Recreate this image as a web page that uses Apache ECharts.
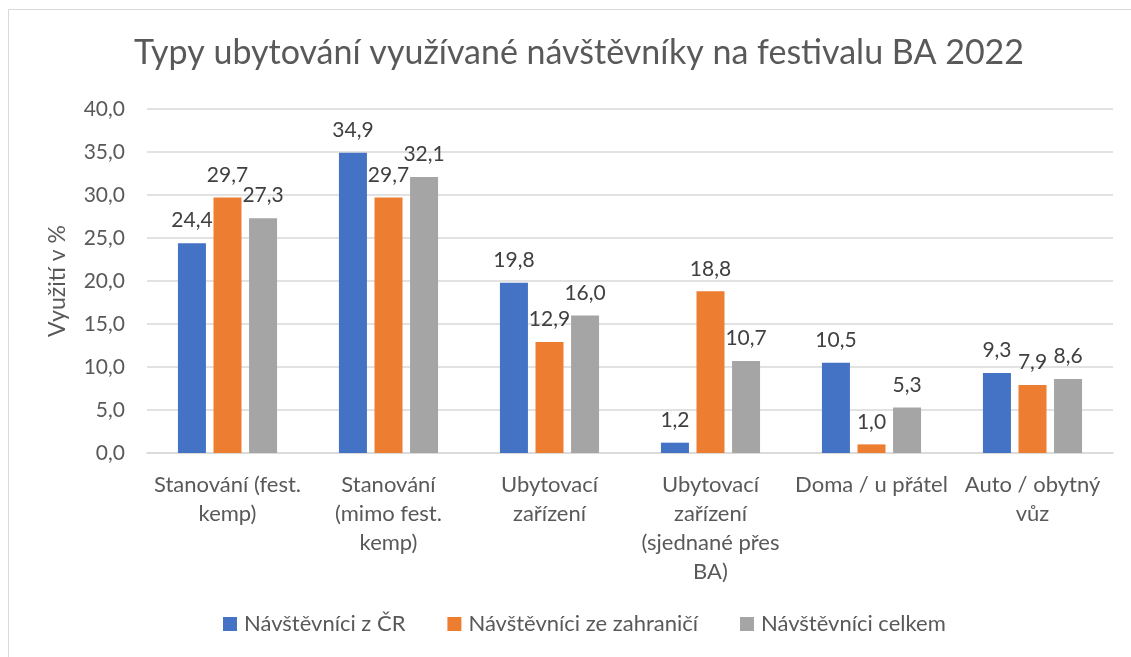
<!DOCTYPE html>
<html>
<head>
<meta charset="utf-8">
<script src="https://cdn.jsdelivr.net/npm/echarts@6/dist/echarts.min.js"></script>
<style>
  html, body { margin: 0; padding: 0; background: #fff; }
  #chart { width: 1131px; height: 657px; }
</style>
</head>
<body>
<div id="chart"></div>
<script>
// data
const categories = [
  'Stanování (fest.\nkemp)',
  'Stanování\n(mimo fest.\nkemp)',
  'Ubytovací\nzařízení',
  'Ubytovací\nzařízení\n(sjednané přes\nBA)',
  'Doma / u přátel',
  'Auto / obytný\nvůz'
];
const seriesNames = ['Návštěvníci z ČR', 'Návštěvníci ze zahraničí', 'Návštěvníci celkem'];
const czValues = [24.4, 34.9, 19.8, 1.2, 10.5, 9.3];
const abroadValues = [29.7, 29.7, 12.9, 18.8, 1.0, 7.9];
const totalValues = [27.3, 32.1, 16.0, 10.7, 5.3, 8.6];
const yTicks = [0, 5, 10, 15, 20, 25, 30, 35, 40];

const colors = ['#4472C4', '#ED7D31', '#A5A5A5'];
const font = 'Lato';

// desetinná čárka
function fmt(v) {
  return Number(v).toFixed(1).replace('.', ',');
}

function makeSeries(name, data, idx) {
  return {
    name: name,
    type: 'bar',
    data: data,
    barWidth: 28,
    barGap: '27%',
    itemStyle: { color: colors[idx] },
    label: {
      show: true,
      position: 'top',
      distance: 12,
      formatter: p => fmt(p.value),
      color: '#404040',
      fontFamily: font,
      fontSize: 21
    }
  };
}

let myChart = echarts.init(document.getElementById('chart'), null, { renderer: 'canvas' });
myChart.setOption({
  backgroundColor: '#fff',
  animation: false,
  color: colors,
  textStyle: { fontFamily: font },
  graphic: [{
    type: 'rect',
    shape: { x: 8.5, y: 9.5, width: 1200, height: 700 },
    style: { fill: 'none', stroke: '#D9D9D9', lineWidth: 1 },
    silent: true
  }],
  title: {
    text: 'Typy ubytování využívané návštěvníky na festivalu BA 2022',
    left: 574,
    textAlign: 'center',
    top: 31,
    textStyle: {
      color: '#595959',
      fontFamily: font,
      fontSize: 34,
      fontWeight: 'normal'
    }
  },
  legend: {
    data: seriesNames,
    bottom: 17,
    left: 218,
    itemWidth: 14,
    itemHeight: 14,
    itemGap: 42,
    icon: 'rect',
    textStyle: { color: '#595959', fontFamily: font, fontSize: 22, padding: [0, 0, 0, 2] }
  },
  grid: {
    left: 147,
    right: 18,
    top: 109,
    bottom: 204
  },
  xAxis: {
    type: 'category',
    data: categories,
    axisLine: { lineStyle: { color: '#D9D9D9', width: 1.5 } },
    axisTick: { show: false },
    axisLabel: {
      interval: 0,
      color: '#595959',
      fontFamily: font,
      fontSize: 22,
      lineHeight: 29,
      margin: 17
    }
  },
  yAxis: {
    type: 'value',
    min: yTicks[0],
    max: yTicks[yTicks.length - 1],
    interval: 5,
    name: 'Využití v %',
    nameLocation: 'middle',
    nameGap: 78,
    nameTextStyle: { color: '#595959', fontFamily: font, fontSize: 23 },
    axisLine: { show: false },
    axisTick: { show: false },
    splitLine: { lineStyle: { color: '#D9D9D9', width: 1.5 } },
    axisLabel: {
      color: '#595959',
      fontFamily: font,
      fontSize: 21,
      margin: 22,
      formatter: v => fmt(v)
    }
  },
  series: [
    makeSeries(seriesNames[0], czValues, 0),
    makeSeries(seriesNames[1], abroadValues, 1),
    makeSeries(seriesNames[2], totalValues, 2)
  ]
});
</script>
</body>
</html>
